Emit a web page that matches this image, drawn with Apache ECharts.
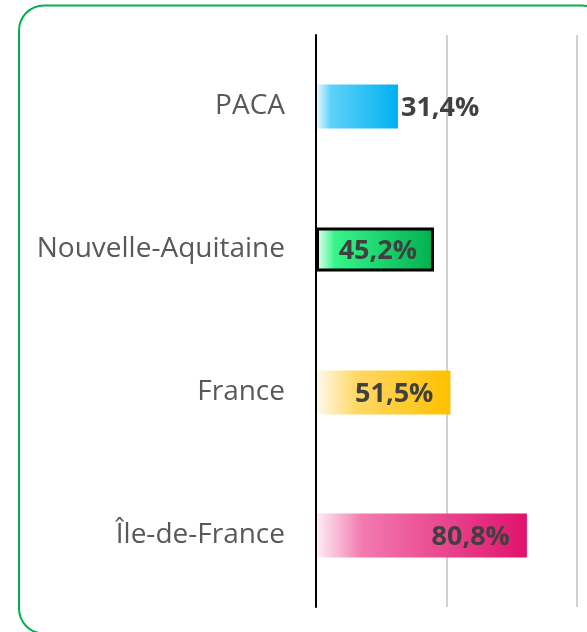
<!DOCTYPE html>
<html>
<head>
<meta charset="utf-8">
<script src="https://cdn.jsdelivr.net/npm/echarts@6/dist/echarts.min.js"></script>
<style>
  html, body { margin: 0; padding: 0; background: #ffffff; }
  #chart { width: 587px; height: 632px; }
</style>
</head>
<body>
<div id="chart"></div>
<script>
// Regions, top to bottom
const categories = ['PACA', 'Nouvelle-Aquitaine', 'France', 'Île-de-France'];
// Share in percent
const values = [31.4, 45.2, 51.5, 80.8];
// Horizontal gradient stops per region (light at the axis, full colour at the bar end)
const gradients = [
  [[0, '#eefaff'], [0.18, '#5fd2fa'], [1, '#00b0f0']],
  [[0, '#f2fff7'], [0.16, '#36f58a'], [1, '#00b050']],
  [[0, '#fffaf0'], [0.3, '#ffd866'], [1, '#ffc000']],
  [[0, '#fdf0f6'], [0.22, '#f27ab0'], [1, '#e0126c']]
];
const highlighted = 'Nouvelle-Aquitaine';

const fmt = v => v.toFixed(1).replace('.', ',') + '%';

const chart = echarts.init(document.getElementById('chart'), null, { renderer: 'canvas' });

const data = values.map((v, i) => {
  const item = {
    value: v,
    itemStyle: {
      color: new echarts.graphic.LinearGradient(0, 0, 1, 0,
        gradients[i].map(s => ({ offset: s[0], color: s[1] })))
    },
    label: { position: 'insideRight', distance: 17, offset: [0, 2] }
  };
  if (categories[i] === highlighted) {
    item.itemStyle.borderColor = '#000000';
    item.itemStyle.borderWidth = 3;
  }
  if (i === 0) {
    item.label = { position: 'right', distance: 3, offset: [0, 2] };
  }
  return item;
});

chart.setOption({
  animation: false,
  backgroundColor: '#ffffff',
  graphic: [{
    type: 'rect',
    shape: { x: 19, y: 5.5, width: 588, height: 628, r: 25 },
    style: { fill: 'none', stroke: '#00b050', lineWidth: 2 },
    z: 0
  }],
  grid: { left: 316, right: 10, top: 35, bottom: 25 },
  xAxis: {
    type: 'value',
    min: 0,
    max: 100,
    interval: 50,
    axisLabel: { show: false },
    axisLine: { show: false },
    axisTick: { show: false },
    splitLine: { show: true, lineStyle: { color: '#d0d0d0', width: 2 } }
  },
  yAxis: {
    type: 'category',
    data: categories,
    inverse: true,
    axisLine: { show: true, lineStyle: { color: '#000000', width: 2 } },
    axisTick: { show: false },
    axisLabel: {
      color: '#595959',
      fontFamily: 'Open Sans',
      fontSize: 28,
      margin: 31,
      padding: [4, 0, 0, 0]
    },
    z: 5
  },
  series: [{
    type: 'bar',
    data: data,
    barWidth: 44,
    label: {
      show: true,
      formatter: p => fmt(p.value),
      color: '#404040',
      fontFamily: 'Open Sans',
      fontWeight: 'bold',
      fontSize: 27
    }
  }]
});
</script>
</body>
</html>
